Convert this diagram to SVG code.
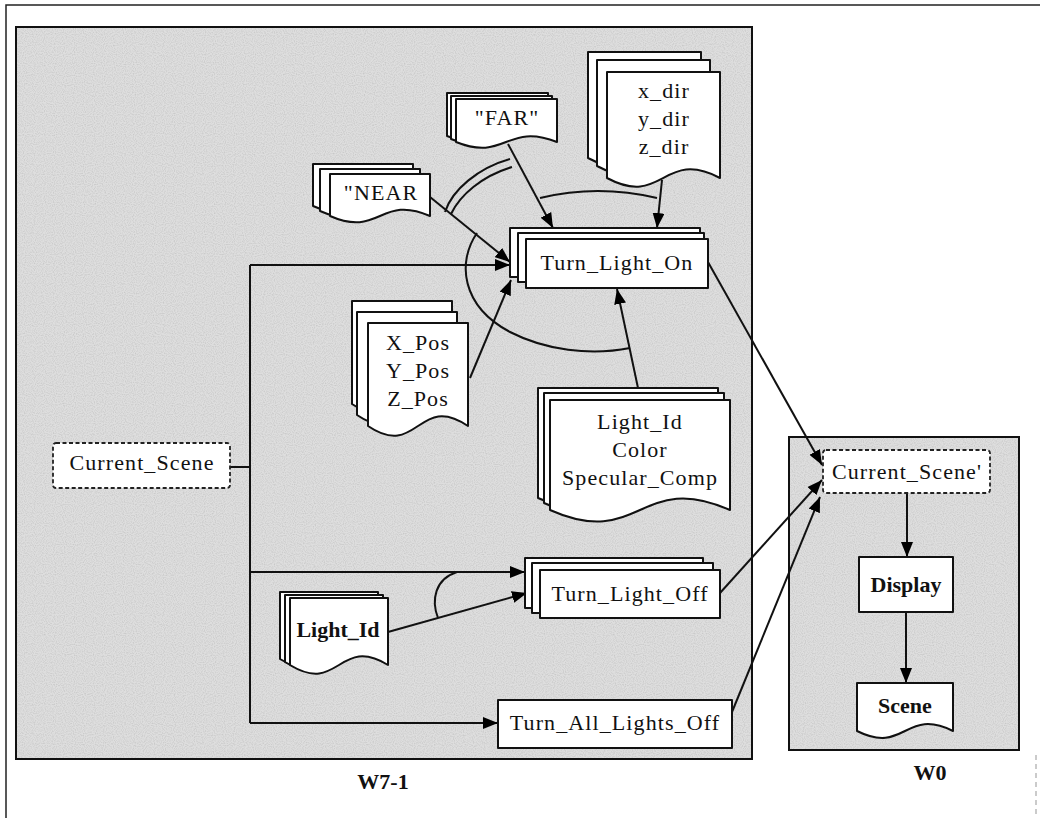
<svg xmlns="http://www.w3.org/2000/svg" width="1040" height="818" viewBox="0 0 1040 818">
<defs>
<marker id="ah" markerUnits="userSpaceOnUse" markerWidth="16" markerHeight="12" refX="15" refY="6" orient="auto">
<path d="M0,0 L15,6 L0,12 z" fill="#000"/>
</marker>
<filter id="grain" x="0" y="0" width="100%" height="100%">
<feTurbulence type="fractalNoise" baseFrequency="0.9" numOctaves="1" seed="3" result="n"/>
<feColorMatrix type="matrix" values="0 0 0 0 0  0 0 0 0 0  0 0 0 0 0  0 0 0 -2.2 1.35" in="n" result="a"/>
<feFlood flood-color="#bdbdbd"/>
<feComposite in2="a" operator="in" result="dots"/>
<feFlood flood-color="#e6e6e6" result="bg"/>
<feMerge><feMergeNode in="bg"/><feMergeNode in="dots"/></feMerge>
</filter>
<style>
.panel{fill:#d6d6d6;stroke:#111;stroke-width:2}
.page{fill:#fff;stroke:#111;stroke-width:2;stroke-linejoin:round}
.dash{fill:#fff;stroke:#222;stroke-width:1.8;stroke-dasharray:4 2.5}
.t{font-family:"Liberation Serif","Times New Roman",serif;font-size:22px;fill:#111;text-anchor:middle;letter-spacing:1.1px}
.b{font-weight:bold;letter-spacing:0}
.c{fill:none;stroke:#111;stroke-width:2}
.a{fill:none;stroke:#111;stroke-width:2;marker-end:url(#ah)}
</style>
</defs>
<rect width="1040" height="818" fill="#fff"/>
<path d="M6,818 V5 H1040" fill="none" stroke="#222" stroke-width="1.5"/>
<path d="M1036,755 V818" fill="none" stroke="#bbb" stroke-width="1.5" stroke-dasharray="5 4"/>

<g id="panel-w7-1">
<rect class="panel" x="16" y="27" width="736" height="732"/>
<rect x="17" y="28" width="734" height="730" filter="url(#grain)" opacity="0.55"/>
<text class="t b" x="383" y="789">W7-1</text>
</g>
<g id="panel-w0">
<rect class="panel" x="789" y="437" width="230" height="313"/>
<rect x="790" y="438" width="228" height="311" filter="url(#grain)" opacity="0.55"/>
<text class="t b" x="930" y="780">W0</text>
</g>

<g id="connectors">
<path class="c" d="M230,467 H250"/>
<path class="c" d="M250,265 V723"/>
<path class="a" d="M250,265 H510"/>
<path class="a" d="M250,572 H525"/>
<path class="a" d="M250,723 H498"/>
<path class="a" d="M430,197 L510,262"/>
<path class="a" d="M508,144 L553,228"/>
<path class="a" d="M662,180 L657,228"/>
<path class="a" d="M470,378 L511,280"/>
<path class="a" d="M638,388 L617,289"/>
<path class="a" d="M388,632 L527,593"/>
<path class="a" d="M708,262 L822,465"/>
<path class="a" d="M720,593 L822,480"/>
<path class="a" d="M732,712 L820,497"/>
<path class="a" d="M907,493 V557"/>
<path class="a" d="M906,612 V683"/>
<path class="c" d="M445,212 C452,190 478,168 510,159"/>
<path class="c" d="M451,214 C460,195 482,176 512,167"/>
<path class="c" d="M540,198 Q598,184 657,198"/>
<path class="c" d="M477,233 C457,262 461,306 510,332 C545,350 590,356 630,348"/>
<path class="c" d="M438,618 C431,600 435,579 457,572"/>
</g>

<g id="node-far">
<path class="page" d="M447,93 H548 V136 C497,116 497,156 447,136 Z"/>
<path class="page" d="M451,96 H552 V139 C501,119 501,159 451,139 Z"/>
<path class="page" d="M456,99 H557 V142 C506,122 506,162 456,142 Z"/>
<text class="t" x="507" y="125">"FAR"</text>
</g>

<g id="node-near">
<path class="page" d="M313,164 H413 V206 C363,184 363,228 313,206 Z"/>
<path class="page" d="M320,169 H420 V211 C370,189 370,233 320,211 Z"/>
<path class="page" d="M330,174 H430 V216 C380,194 380,238 330,216 Z"/>
<text class="t" x="381" y="200">"NEAR</text>
</g>

<g id="node-dir">
<path class="page" d="M588,52 H701 V158 C644,128 644,188 588,158 Z"/>
<path class="page" d="M597,60 H710 V166 C653,136 653,196 597,166 Z"/>
<path class="page" d="M607,72 H720 V178 C663,148 663,208 607,178 Z"/>
<text class="t" x="664" y="98">x_dir</text>
<text class="t" x="664" y="126">y_dir</text>
<text class="t" x="664" y="154">z_dir</text>
</g>

<g id="node-turn-light-on">
<rect class="page" x="510" y="228" width="190" height="49"/>
<rect class="page" x="518" y="233" width="186" height="49"/>
<rect class="page" x="526" y="239" width="182" height="49"/>
<text class="t" x="617" y="270">Turn_Light_On</text>
</g>

<g id="node-pos">
<path class="page" d="M352,301 H452 V404 C402,370 402,438 352,404 Z"/>
<path class="page" d="M357,312 H457 V415 C407,381 407,449 357,415 Z"/>
<path class="page" d="M368,323 H468 V426 C418,392 418,460 368,426 Z"/>
<text class="t" x="418" y="350">X_Pos</text>
<text class="t" x="418" y="378">Y_Pos</text>
<text class="t" x="418" y="406">Z_Pos</text>
</g>

<g id="node-light-params">
<path class="page" d="M538,388 H718 V498 C628,458 628,538 538,498 Z"/>
<path class="page" d="M544,393 H724 V503 C634,463 634,543 544,503 Z"/>
<path class="page" d="M550,400 H730 V510 C640,470 640,550 550,510 Z"/>
<text class="t" x="640" y="429">Light_Id</text>
<text class="t" x="640" y="457">Color</text>
<text class="t" x="640" y="485">Specular_Comp</text>
</g>

<g id="node-current-scene">
<rect class="dash" x="53" y="443" width="177" height="45" rx="3"/>
<text class="t" x="142" y="470">Current_Scene</text>
</g>

<g id="node-light-id">
<path class="page" d="M280,592 H378 V659 C329,629 329,689 280,659 Z"/>
<path class="page" d="M285,595 H383 V662 C334,632 334,692 285,662 Z"/>
<path class="page" d="M290,598 H388 V665 C339,635 339,695 290,665 Z"/>
<text class="t b" x="338" y="637">Light_Id</text>
</g>

<g id="node-turn-light-off">
<rect class="page" x="525" y="558" width="178" height="50"/>
<rect class="page" x="532" y="563" width="181" height="50"/>
<rect class="page" x="540" y="570" width="180" height="48"/>
<text class="t" x="630" y="601">Turn_Light_Off</text>
</g>

<g id="node-turn-all-lights-off">
<rect class="page" x="498" y="700" width="234" height="48"/>
<text class="t" x="615" y="730">Turn_All_Lights_Off</text>
</g>

<g id="node-current-scene-prime">
<rect class="dash" x="823" y="450" width="167" height="43" rx="3"/>
<text class="t" x="907" y="479">Current_Scene'</text>
</g>

<g id="node-display">
<rect class="page" x="859" y="557" width="94" height="55"/>
<text class="t b" x="906" y="592">Display</text>
</g>

<g id="node-scene">
<path class="page" d="M857,683 H953 V731 C905,707 905,755 857,731 Z"/>
<text class="t b" x="905" y="713">Scene</text>
</g>
</svg>
